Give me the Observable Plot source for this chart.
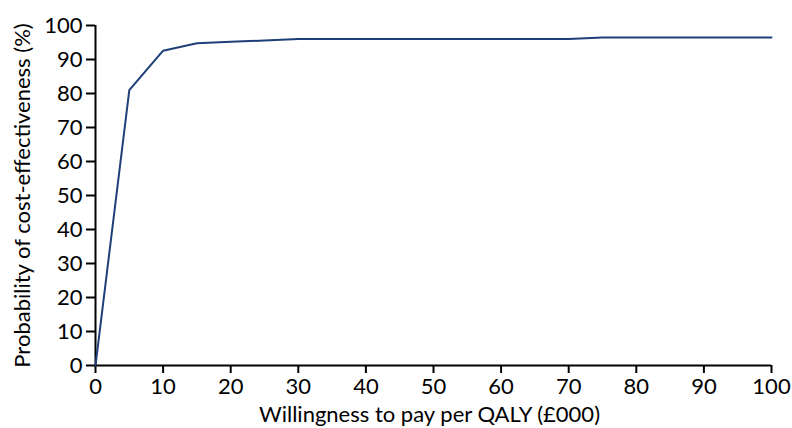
<!DOCTYPE html>
<html>
<head>
<meta charset="utf-8">
<script src="https://cdn.jsdelivr.net/npm/d3@7"></script>
<script src="https://cdn.jsdelivr.net/npm/@observablehq/plot@0.6"></script>
<style>
  html, body { margin: 0; padding: 0; background: #fff; }
  #chart svg { display: block; }
  #chart svg text { font-size: 22px; font-family: Lato, "Open Sans", sans-serif; }
</style>
</head>
<body>
<div id="chart"></div>
<script>
const wtp = [0, 5, 10, 15, 20, 25, 30, 40, 50, 60, 70, 75, 80, 90, 100];
const probability = [0, 81, 92.6, 94.8, 95.2, 95.6, 96, 96, 96, 96, 96, 96.5, 96.5, 96.5, 96.5];
const xTicks = [0, 10, 20, 30, 40, 50, 60, 70, 80, 90, 100];
const yTicks = [0, 10, 20, 30, 40, 50, 60, 70, 80, 90, 100];

const data = wtp.map((x, i) => ({x, y: probability[i]}));

const FS = 22;
const chart = Plot.plot({
  width: 792,
  height: 428,
  marginTop: 25,
  marginBottom: 63,
  marginLeft: 95,
  marginRight: 21,
  style: {fontFamily: "Lato, 'Open Sans', sans-serif", fontSize: FS + "px", color: "#000", background: "#fff"},
  x: {domain: [0, 100]},
  y: {domain: [0, 100]},
  marks: [
    Plot.axisX({ticks: xTicks, tickSize: 8, tickPadding: 5, strokeWidth: 2, label: null, fontSize: FS}),
    Plot.axisY({ticks: yTicks, tickSize: 9, tickPadding: 4, strokeWidth: 2, label: null, fontSize: FS}),
    Plot.ruleY([0], {stroke: "#000", strokeWidth: 2}),
    Plot.ruleX([0], {stroke: "#000", strokeWidth: 2}),
    Plot.line(data, {x: "x", y: "y", stroke: "#1f3f78", strokeWidth: 2}),
    Plot.text(["Willingness to pay per QALY (£000)"], {frameAnchor: "bottom", dx: -4, dy: 56, fontSize: FS, fill: "#000", text: d => d}),
    Plot.text(["Probability of cost-effectiveness (%)"], {frameAnchor: "left", dx: -73, rotate: -90, textAnchor: "middle", fontSize: FS, fill: "#000", text: d => d})
  ]
});
document.getElementById("chart").appendChild(chart);
</script>
</body>
</html>
